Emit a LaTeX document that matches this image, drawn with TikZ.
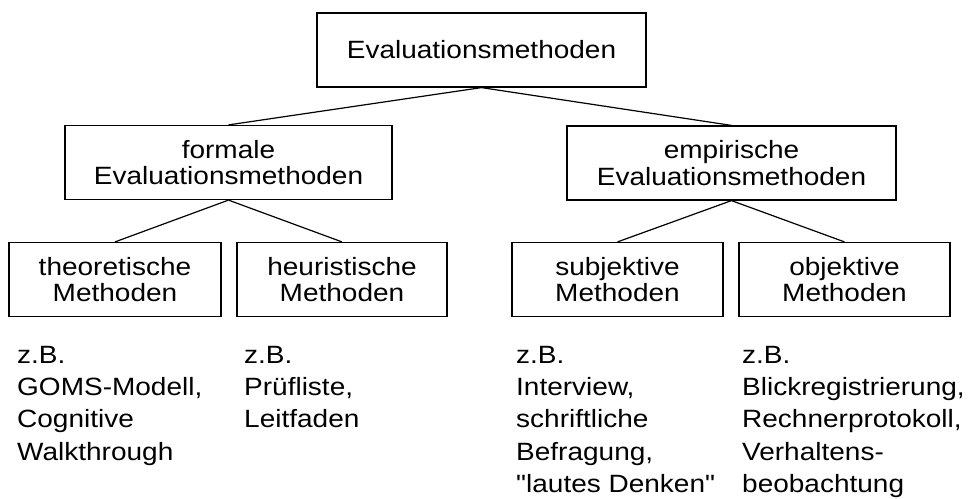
\documentclass[tikz,border=0pt]{standalone}
\usepackage{fontspec}
\setmainfont{Liberation Sans}[FakeStretch=1.12,Ligatures=TeXOff]
\begin{document}
\begin{tikzpicture}[x=1pt,y=-1pt,
  box/.style={draw=black,line width=1.2pt,inner sep=0pt,align=center,
    minimum height=74pt,font=\fontsize{25}{26.7}\selectfont},
  wide/.style={box,minimum width=329pt},
  small/.style={box,minimum width=211pt},
  ex/.style={anchor=base west,inner sep=0pt,align=left,
    font=\fontsize{25}{32.4}\selectfont},
  conn/.style={line width=1.2pt}]
\useasboundingbox (0,0) rectangle (968,498);
\node[wide] (top) at (481.5,50) {Evaluationsmethoden};
\node[wide,minimum width=327pt] (formal) at (228.5,162.5) {formale\\Evaluationsmethoden};
\node[wide] (emp) at (731.5,163) {empirische\\Evaluationsmethoden};
\node[small,minimum width=212pt] (theo) at (115,279.5) {theoretische\\Methoden};
\node[small,minimum width=210pt] (heur) at (342,279.5) {heuristische\\Methoden};
\node[small] (subj) at (617.5,279.5) {subjektive\\Methoden};
\node[small] (obj) at (844.5,279.5) {objektive\\Methoden};
\draw[conn] (top.south) -- (formal.north);
\draw[conn] (top.south) -- (emp.north);
\draw[conn] (formal.south) -- (theo.north);
\draw[conn] (formal.south) -- (heur.north);
\draw[conn] (emp.south) -- (subj.north);
\draw[conn] (emp.south) -- (obj.north);
% base anchor = baseline of the last line
\node[ex] (exa) at (17,460.2) {z.B.\\GOMS-Modell,\\Cognitive\\Walkthrough};
\node[ex] (exb) at (244,427.8) {z.B.\\Prüfliste,\\Leitfaden};
\node[ex] (exc) at (516,492.6) {z.B.\\Interview,\\schriftliche\\Befragung,\\"lautes Denken"};
\node[ex] (exd) at (742,492.6) {z.B.\\Blickregistrierung,\\Rechnerprotokoll,\\Verhaltens-\\beobachtung};
\end{tikzpicture}
\end{document}
